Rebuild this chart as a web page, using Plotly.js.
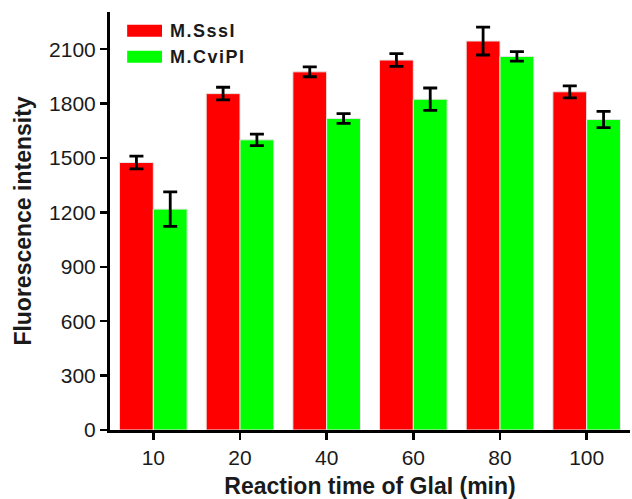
<!DOCTYPE html>
<html>
<head>
<meta charset="utf-8">
<script src="https://cdn.plot.ly/plotly-3.0.1.min.js"></script>
<style>html,body{margin:0;padding:0;background:#fff;}#chart{width:632px;height:499px;}</style>
</head>
<body>
<div id="chart"></div>
<script>
const categories = ["10", "20", "40", "60", "80", "100"];
const seriesNames = ["M.SssI", "M.CviPI"];
const sssIValues = [1475, 1855, 1975, 2040, 2145, 1865];
const sssIErrors = [35, 35, 27, 35, 77, 33];
const cviPIValues = [1218, 1600, 1718, 1824, 2060, 1712];
const cviPIErrors = [95, 32, 27, 62, 26, 45];
const yTicks = [0, 300, 600, 900, 1200, 1500, 1800, 2100];

const colors = ["#ff0000", "#00ff00"];
const font = "Liberation Sans, Arial, sans-serif";

function barTrace(name, y, err, color) {
  return {
    type: "bar", name: name, x: categories, y: y,
    marker: {color: color, line: {color: "#e6e6e6", width: 1}},
    error_y: {type: "data", array: err, visible: true, color: "#000", thickness: 2.8, width: 7},
    showlegend: false
  };
}

const data = [
  barTrace(seriesNames[0], sssIValues, sssIErrors, colors[0]),
  barTrace(seriesNames[1], cviPIValues, cviPIErrors, colors[1])
];

const legendY = [0.955, 0.893];
const shapes = seriesNames.map((n, i) => ({
  type: "rect", xref: "paper", yref: "paper",
  x0: 0.033, x1: 0.1, y0: legendY[i] - 0.0145, y1: legendY[i] + 0.0145,
  fillcolor: colors[i], line: {width: 0}
}));
const annotations = seriesNames.map((n, i) => ({
  xref: "paper", yref: "paper", x: 0.111, y: legendY[i], xanchor: "left", yanchor: "middle",
  text: "<b>" + n.split("").join("\u200A") + "</b>", showarrow: false,
  font: {family: font, size: 18, color: "#1a1a1a"}
}));

const layout = {
  width: 632, height: 499,
  margin: {l: 110, r: 2, t: 12, b: 69},
  paper_bgcolor: "#fff", plot_bgcolor: "#fff",
  barmode: "group", bargap: 0.22, bargroupgap: 0,
  showlegend: false,
  font: {family: font, color: "#1a1a1a"},
  xaxis: {
    type: "category", range: [-0.5, 5.5],
    showline: true, linecolor: "#000", linewidth: 3,
    ticks: "outside", ticklen: 7, tickwidth: 2.5, tickcolor: "#000",
    tickfont: {family: font, size: 21, color: "#1a1a1a"},
    showgrid: false, zeroline: false,
    title: {text: "<b>Reaction time of GlaI (min)</b>", font: {family: font, size: 23, color: "#1a1a1a"}, standoff: 10}
  },
  yaxis: {
    range: [0, 2305], tickvals: yTicks, ticktext: yTicks.map(String),
    showline: true, linecolor: "#000", linewidth: 3,
    ticks: "outside", ticklen: 7, tickwidth: 2.5, tickcolor: "#000",
    tickfont: {family: font, size: 21, color: "#1a1a1a"},
    showgrid: false, zeroline: false,
    title: {text: "<b>Fluorescence intensity</b>", font: {family: font, size: 23, color: "#1a1a1a"}, standoff: 12}
  },
  shapes: shapes,
  annotations: annotations
};

Plotly.newPlot("chart", data, layout, {displayModeBar: false, staticPlot: true});
</script>
</body>
</html>
